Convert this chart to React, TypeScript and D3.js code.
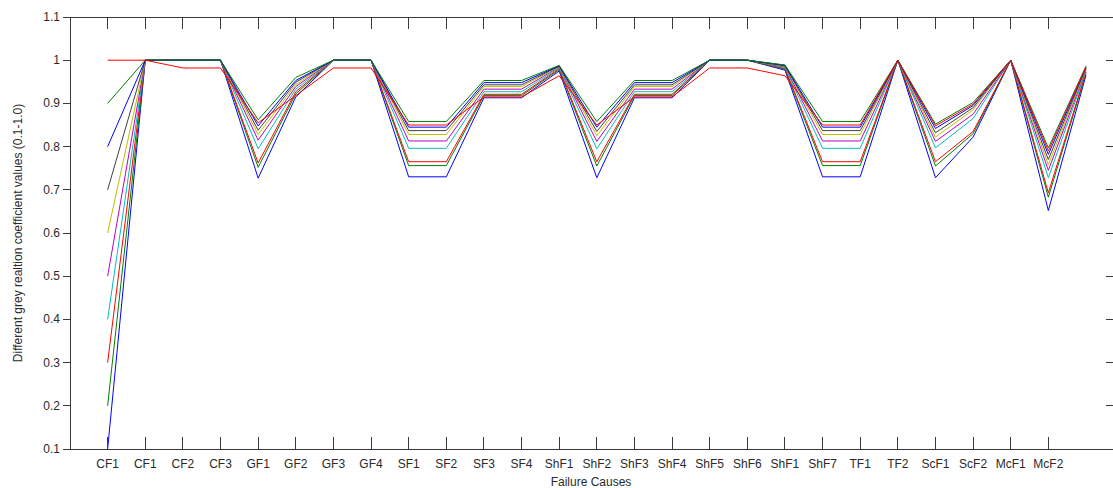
import { useEffect, useRef } from "react";
import * as d3 from "d3";

// x tick labels (the 27th point has no label)
const categories = [
  "CF1", "CF1", "CF2", "CF3", "GF1", "GF2", "GF3", "GF4", "SF1", "SF2", "SF3", "SF4", "ShF1",
  "ShF2", "ShF3", "ShF4", "ShF5", "ShF6", "ShF1", "ShF7", "TF1", "TF2", "ScF1", "ScF2", "McF1", "McF2",
];

const yTicks = [0.1, 0.2, 0.3, 0.4, 0.5, 0.6, 0.7, 0.8, 0.9, 1, 1.1];

// one series per distinguishing coefficient 0.1 .. 1.0
const s01 = [0.1, 1, 1, 1, 0.727, 0.915, 1, 1, 0.73, 0.73, 0.913, 0.913, 0.975, 0.728, 0.913, 0.913, 1, 1, 0.977, 0.73, 0.73, 1, 0.728, 0.822, 1, 0.652, 0.965];
const s02 = [0.2, 1, 1, 1, 0.752, 0.922, 1, 1, 0.756, 0.756, 0.918, 0.918, 0.978, 0.755, 0.918, 0.918, 1, 1, 0.979, 0.756, 0.756, 1, 0.755, 0.83, 1, 0.683, 0.97];
const s03 = [0.3, 1, 1, 1, 0.762, 0.927, 1, 1, 0.765, 0.765, 0.921, 0.921, 0.98, 0.765, 0.921, 0.921, 1, 1, 0.981, 0.765, 0.765, 1, 0.765, 0.835, 1, 0.693, 0.972];
const s04 = [0.4, 1, 1, 1, 0.795, 0.933, 1, 1, 0.796, 0.796, 0.927, 0.927, 0.982, 0.795, 0.927, 0.927, 1, 1, 0.983, 0.796, 0.796, 1, 0.797, 0.865, 1, 0.728, 0.975];
const s05 = [0.5, 1, 1, 1, 0.815, 0.939, 1, 1, 0.813, 0.813, 0.933, 0.933, 0.984, 0.812, 0.933, 0.933, 1, 1, 0.985, 0.813, 0.813, 1, 0.812, 0.875, 1, 0.745, 0.978];
const s06 = [0.6, 1, 1, 1, 0.828, 0.944, 1, 1, 0.828, 0.828, 0.939, 0.939, 0.985, 0.825, 0.939, 0.939, 1, 1, 0.986, 0.828, 0.828, 1, 0.822, 0.885, 1, 0.758, 0.98];
const s07 = [0.7, 1, 1, 1, 0.838, 0.949, 1, 1, 0.837, 0.837, 0.943, 0.943, 0.986, 0.835, 0.943, 0.943, 1, 1, 0.987, 0.837, 0.837, 1, 0.832, 0.89, 1, 0.77, 0.982];
const s08 = [0.8, 1, 1, 1, 0.848, 0.953, 1, 1, 0.845, 0.845, 0.948, 0.948, 0.987, 0.845, 0.948, 0.948, 1, 1, 0.988, 0.845, 0.845, 1, 0.842, 0.895, 1, 0.782, 0.984];
const s09 = [0.9, 1, 1, 1, 0.862, 0.96, 1, 1, 0.858, 0.858, 0.953, 0.953, 0.988, 0.858, 0.953, 0.953, 1, 1, 0.989, 0.858, 0.858, 1, 0.852, 0.902, 1, 0.797, 0.986];
const s10 = [1.0, 1, 0.982, 0.982, 0.855, 0.918, 0.982, 0.982, 0.85, 0.85, 0.915, 0.915, 0.964, 0.85, 0.915, 0.915, 0.982, 0.982, 0.964, 0.85, 0.85, 1, 0.848, 0.898, 1, 0.79, 0.985];

const series = [s01, s02, s03, s04, s05, s06, s07, s08, s09, s10];

// matlab's old default colour order
const colors = ["#0000ff", "#008000", "#ff0000", "#00bfbf", "#bf00bf", "#bfbf00", "#404040"];

export default function App() {
  const svgRef = useRef<SVGSVGElement>(null);

  useEffect(() => {
    const width = 1113;
    const height = 488;
    const left = 70;
    const top = 17;
    const bottom = 449;

    const svg = d3.select(svgRef.current);
    svg.selectAll("*").remove();

    const x = d3.scaleLinear().domain([0, 28]).range([left, 1123.6]);
    const y = d3.scaleLinear().domain([0.1, 1.1]).range([bottom, top]);

    const axisColor = "#3a3a3a";
    const font = "'Liberation Sans', Arial, sans-serif";

    // lines first, axes on top
    const line = d3
      .line<number>()
      .x((d, i) => x(i + 1))
      .y((d) => y(d));

    svg
      .append("g")
      .selectAll("path")
      .data(series)
      .enter()
      .append("path")
      .attr("d", (d) => line(d))
      .attr("fill", "none")
      .attr("stroke", (d, i) => colors[i % colors.length])
      .attr("stroke-width", 1);

    const g = svg.append("g");

    // box (right side falls outside the picture)
    g.append("line").attr("x1", left).attr("x2", width).attr("y1", top).attr("y2", top);
    g.append("line").attr("x1", left).attr("x2", width).attr("y1", bottom).attr("y2", bottom);
    g.append("line").attr("x1", left).attr("x2", left).attr("y1", top).attr("y2", bottom);

    const xt = categories.map((c, i) => i + 1);

    // x ticks, inward at top and bottom
    g.selectAll(".xtb")
      .data(xt)
      .enter()
      .append("line")
      .attr("x1", (d) => x(d))
      .attr("x2", (d) => x(d))
      .attr("y1", bottom)
      .attr("y2", bottom - 12);
    g.selectAll(".xtt")
      .data(xt)
      .enter()
      .append("line")
      .attr("x1", (d) => x(d))
      .attr("x2", (d) => x(d))
      .attr("y1", top)
      .attr("y2", top + 12);

    // y ticks, outward on the left, stubs at the right edge
    g.selectAll(".ytl")
      .data(yTicks)
      .enter()
      .append("line")
      .attr("x1", left - 7)
      .attr("x2", left)
      .attr("y1", (d) => y(d))
      .attr("y2", (d) => y(d));
    g.selectAll(".ytr")
      .data(yTicks)
      .enter()
      .append("line")
      .attr("x1", 1106)
      .attr("x2", width)
      .attr("y1", (d) => y(d))
      .attr("y2", (d) => y(d));

    g.selectAll("line").attr("stroke", axisColor).attr("stroke-width", 1).attr("shape-rendering", "crispEdges");

    svg
      .append("g")
      .selectAll("text")
      .data(yTicks)
      .enter()
      .append("text")
      .attr("x", left - 10)
      .attr("y", (d) => y(d) + 4)
      .attr("text-anchor", "end")
      .text((d) => d3.format("~g")(d));

    svg
      .append("g")
      .selectAll("text")
      .data(categories)
      .enter()
      .append("text")
      .attr("x", (d, i) => x(i + 1))
      .attr("y", 468)
      .attr("text-anchor", "middle")
      .text((d) => d);

    svg
      .append("text")
      .attr("x", 591)
      .attr("y", 486)
      .attr("text-anchor", "middle")
      .text("Failure Causes");

    svg
      .append("text")
      .attr("transform", `translate(22, ${(top + bottom) / 2}) rotate(-90)`)
      .attr("text-anchor", "middle")
      .text("Different grey realtion coefficient values (0.1-1.0)");

    svg.selectAll("text").attr("font-family", font).attr("font-size", "12px").attr("fill", "#2a2a2a");
  }, []);

  return (
    <svg
      ref={svgRef}
      width={1113}
      height={488}
      style={{ position: "absolute", left: 0, top: 0, background: "#fff" }}
    />
  );
}
